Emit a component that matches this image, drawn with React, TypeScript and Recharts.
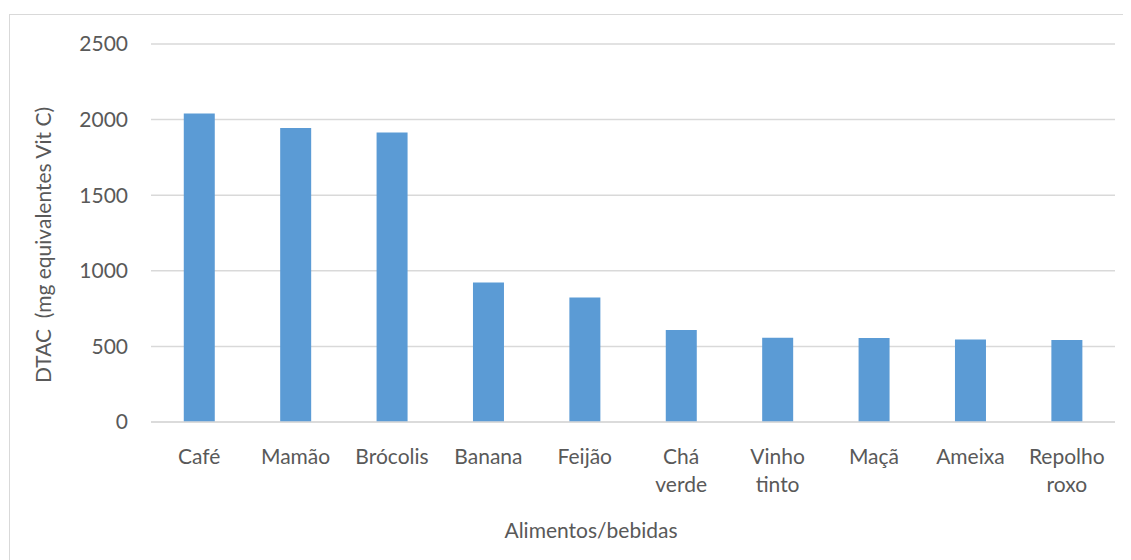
import { BarChart, Bar, XAxis, YAxis, CartesianGrid } from 'recharts';

const categories = ['Café', 'Mamão', 'Brócolis', 'Banana', 'Feijão', 'Chá verde', 'Vinho tinto', 'Maçã', 'Ameixa', 'Repolho roxo'];
const dtac = [2040, 1945, 1915, 922, 823, 608, 557, 555, 546, 542];
const yTicks = [0, 500, 1000, 1500, 2000, 2500];

const FONT = 'Lato, "Open Sans", sans-serif';
const TEXT = '#595959';

const data = categories.map((name, i) => ({ name, value: dtac[i] }));

// Excel wraps the two-word labels onto two lines
const CategoryTick = ({ x, y, payload }: any) => {
  const words = String(payload.value).split(' ');
  return (
    <text x={x} y={y + 40} textAnchor="middle" fill={TEXT} fontSize={21} fontFamily={FONT}>
      {words.map((w, i) => (
        <tspan key={i} x={x} dy={i === 0 ? 0 : 28}>
          {w}
        </tspan>
      ))}
    </text>
  );
};

const YTitle = () => (
  <text
    x={32}
    y={230}
    transform="rotate(-90 32 230)"
    textAnchor="middle"
    dominantBaseline="central"
    fill={TEXT}
    fontSize={21}
    fontFamily={FONT}
    style={{ whiteSpace: 'pre' }}
  >
    DTAC  (mg equivalentes Vit C)
  </text>
);

// centred on the whole chart frame, not on the plot area
const XTitle = () => (
  <text x={581} y={523} textAnchor="middle" fill={TEXT} fontSize={21} fontFamily={FONT}>
    Alimentos/bebidas
  </text>
);

export default function App() {
  return (
    <div
      style={{
        marginLeft: 1,
        marginTop: 6,
        width: 1122,
        height: 546,
        borderLeft: '1px solid #d9d9d9',
        borderTop: '1px solid #d9d9d9',
        boxSizing: 'border-box',
        background: '#fff',
        overflow: 'hidden',
      }}
    >
      <BarChart
        width={1121}
        height={545}
        data={data}
        margin={{ top: 29, right: 16, bottom: 0, left: 0 }}
        barCategoryGap="34%"
      >
        <CartesianGrid vertical={false} stroke="#d9d9d9" strokeWidth={1.5} />
        <XAxis
          dataKey="name"
          height={138}
          tickLine={false}
          axisLine={{ stroke: '#d9d9d9', strokeWidth: 1.5 }}
          tick={<CategoryTick />}
          tickSize={0}
          interval={0}
          label={<XTitle />}
        />
        <YAxis
          width={141}
          domain={[0, 2500]}
          ticks={yTicks}
          axisLine={false}
          tickLine={false}
          tickSize={0}
          tickMargin={23}
          tick={{ fill: TEXT, fontSize: 21, fontFamily: FONT }}
          label={<YTitle />}
        />
        <Bar dataKey="value" fill="#5b9bd5" isAnimationActive={false} />
      </BarChart>
    </div>
  );
}
